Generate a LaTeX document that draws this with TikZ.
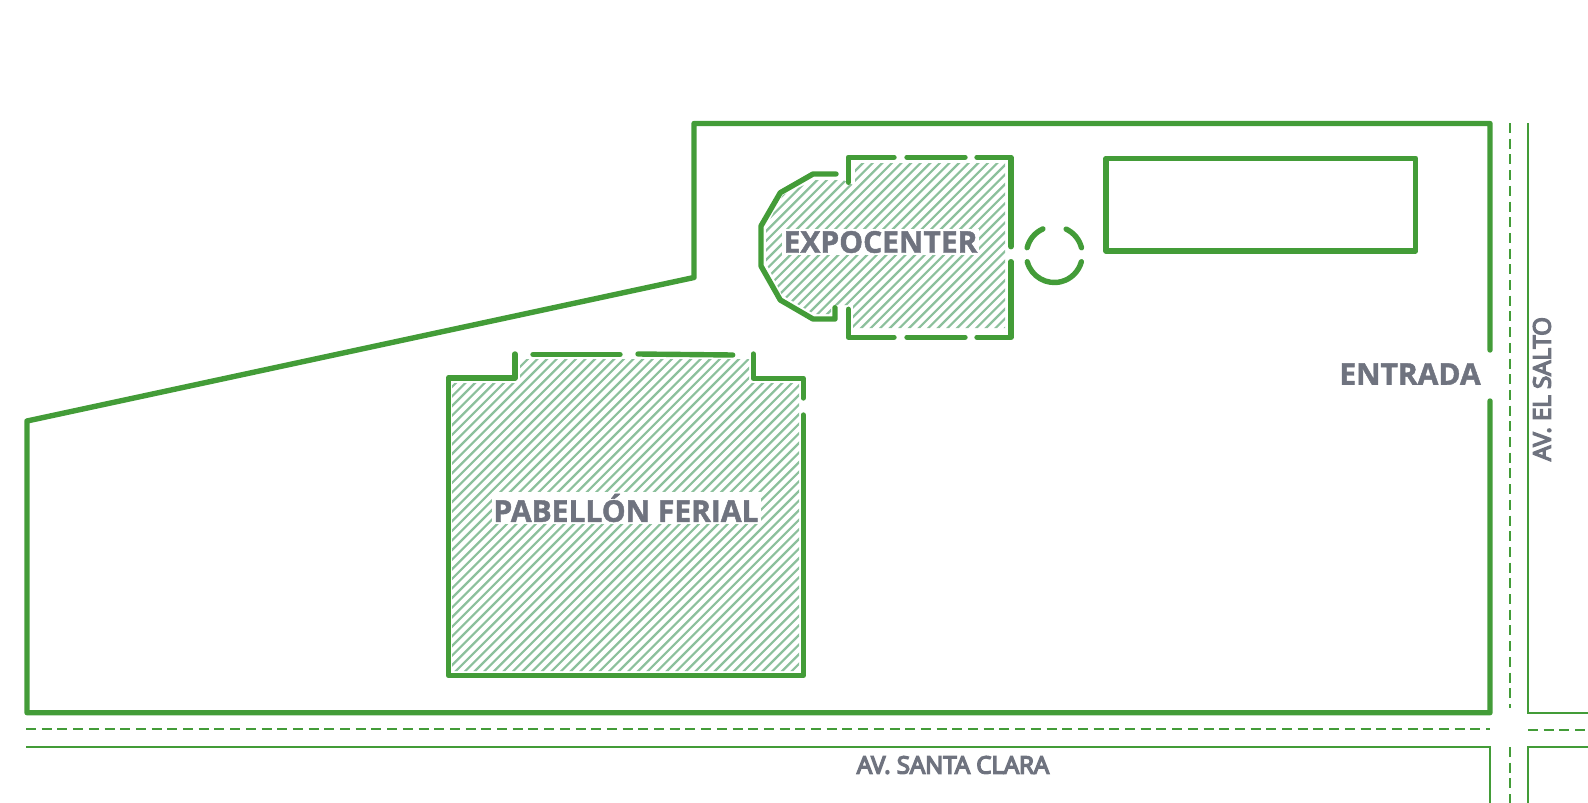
\documentclass[tikz,border=0pt]{standalone}
\usepackage{fontspec}
\setmainfont[BoldFeatures={FakeBold=1.5}]{Open Sans}
\newfontfamily\semifont[FakeBold=6]{Open Sans}
\definecolor{planGreen}{HTML}{439C38}
\definecolor{hatchGreen}{HTML}{8CC09C}
\definecolor{labelGrey}{HTML}{6F737F}
\tikzset{
  wall/.style={draw=planGreen, line width=5.4pt, line join=round, line cap=round},
  street/.style={draw=planGreen, line width=1.9pt},
  midline/.style={draw=planGreen, line width=1.9pt, dash pattern=on 10pt off 5.7pt},
  hatchline/.style={draw=hatchGreen, line width=2.2pt},
  bigtext/.style={font=\bfseries\fontsize{30}{30}\selectfont, text=labelGrey, fill=white, inner sep=2pt},
  roadtext/.style={font=\semifont\fontsize{24}{24}\selectfont, text=labelGrey, inner sep=0pt},
}
\begin{document}
\begin{tikzpicture}[x=1pt, y=-1pt]
  \useasboundingbox (0,0) rectangle (1588,803);

  % hatching
  \begin{scope}
    \clip (452,383) -- (520,383) -- (520,359) -- (749,359) -- (749,383) -- (799,383)
      -- (799,671) -- (452,671) -- cycle;
    \foreach \d in {0,...,70}
      \draw[hatchline] (130+\d*9.6,680) -- ++(340,-340);
  \end{scope}
  \begin{scope}
    \clip (855,163) -- (1005,163) -- (1005,328) -- (853,328) -- (853,305) -- (831,305)
      -- (831,314) -- (814,314) -- (782,295) -- (766,263) -- (766,227) -- (783,195) -- (815,180)
      -- (843,180) -- (855,186) -- cycle;
    \foreach \d in {0,...,44}
      \draw[hatchline] (590+\d*9.6,340) -- ++(190,-190);
  \end{scope}

  % lot
  \draw[wall] (1490,401) -- (1490,712.7) -- (27,712.7) -- (27,421) -- (694,277.5) -- (694,123.5)
    -- (1490,123.5) -- (1490,350);

  % pavilion
  \draw[wall] (515,354) -- (515,378) -- (448.3,378) -- (448.3,675.5) -- (803.3,675.5) -- (803.3,415);
  \draw[wall] (533,354.5) -- (620,354.5);
  \draw[wall] (638,354) -- (732.7,355);
  \draw[wall] (753.3,354) -- (753.3,378.3) -- (803.3,378.3) -- (803.3,398);

  % expo center
  \draw[wall] (848.3,182.3) -- (848.3,157.3) -- (894,157.3);
  \draw[wall] (907,157.3) -- (965,157.3);
  \draw[wall] (977,157.3) -- (1011,157.3) -- (1011,246.7);
  \draw[wall] (1011,261.7) -- (1011,337.3) -- (977,337.3);
  \draw[wall] (965,337.3) -- (907,337.3);
  \draw[wall] (894,337.3) -- (848.3,337.3) -- (848.3,309.3);
  \draw[wall] (836,174) -- (813,174) -- (780.3,192.7) -- (761,226) -- (761,266) -- (780.3,300)
    -- (813,319) -- (835,319) -- (835,307.7);

  % round kiosk
  \draw[wall] (1054.3,254.5) ++(165:28) arc[start angle=165, end angle=15, radius=28];
  \draw[wall] (1054.3,254.5) ++(194:28) arc[start angle=194, end angle=246, radius=28];
  \draw[wall] (1054.3,254.5) ++(295:28) arc[start angle=295, end angle=346, radius=28];

  % block
  \draw[wall] (1106,158.3) rectangle (1415.7,251);

  % streets
  \draw[street] (26,747) -- (1490,747) -- (1490,803);
  \draw[midline] (26,728.7) -- (1490,728.7);
  \draw[street] (1527.7,123) -- (1527.7,712.7) -- (1588,712.7);
  \draw[midline] (1510,123) -- (1510,708);
  \draw[midline] (1528,730) -- (1588,730);
  \draw[street] (1588,747.3) -- (1527.7,747.3) -- (1527.7,803);
  \draw[midline] (1510,747) -- (1510,803);

  \node[bigtext] (pabellon) at (626,508) {PABELLÓN FERIAL};
  \node[bigtext] (expo) at (880.5,242) {EXPOCENTER};
  \node[bigtext, fill=none] (entrada) at (1410,374) {ENTRADA};
  \node[roadtext] (santaclara) at (953,765) {AV. SANTA CLARA};
  \node[roadtext, rotate=90] (elsalto) at (1542,389) {AV. EL SALTO};
\end{tikzpicture}
\end{document}
